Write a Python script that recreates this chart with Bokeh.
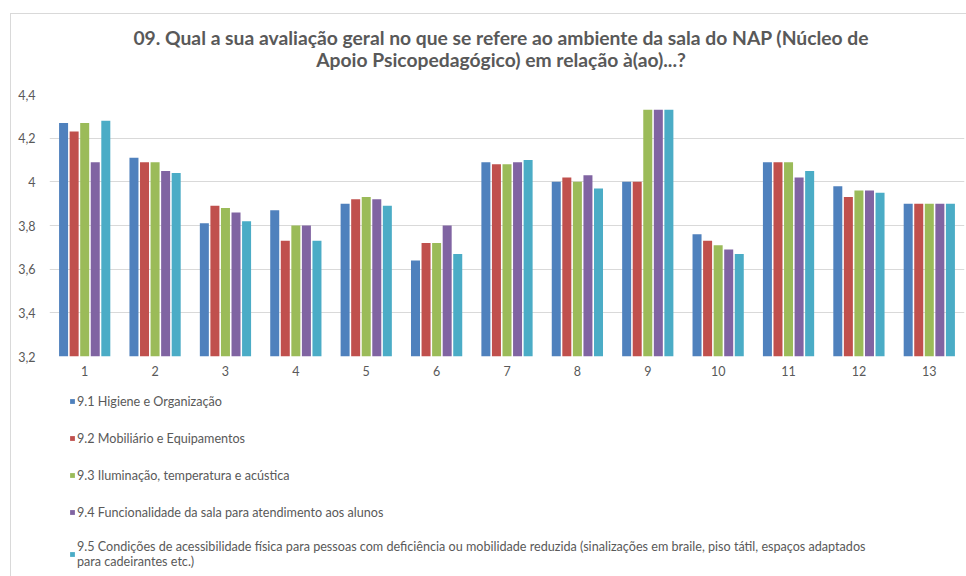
from bokeh.plotting import figure
from bokeh.layouts import column
from bokeh.models import (ColumnDataSource, FactorRange, Range1d, FixedTicker,
                          CustomJSTickFormatter, Legend, LegendItem, Div)
from bokeh.transform import dodge
from bokeh.embed import file_html
from bokeh.resources import INLINE

categories = [str(i) for i in range(1, 14)]

title_lines = [
    "09. Qual a sua avaliação geral no que se refere ao ambiente da sala do NAP (Núcleo de",
    "Apoio Psicopedagógico) em relação à(ao)...?",
]

series_names = [
    "9.1 Higiene e Organização",
    "9.2 Mobiliário e Equipamentos",
    "9.3 Iluminação, temperatura e acústica",
    "9.4 Funcionalidade da sala para atendimento aos alunos",
    "9.5 Condições de acessibilidade física para pessoas com deficiência ou mobilidade reduzida (sinalizações em braile, piso tátil, espaços adaptados\npara cadeirantes etc.)",
]

s91 = [4.27, 4.11, 3.81, 3.87, 3.90, 3.64, 4.09, 4.00, 4.00, 3.76, 4.09, 3.98, 3.90]
s92 = [4.23, 4.09, 3.89, 3.73, 3.92, 3.72, 4.08, 4.02, 4.00, 3.73, 4.09, 3.93, 3.90]
s93 = [4.27, 4.09, 3.88, 3.80, 3.93, 3.72, 4.08, 4.00, 4.33, 3.71, 4.09, 3.96, 3.90]
s94 = [4.09, 4.05, 3.86, 3.80, 3.92, 3.80, 4.09, 4.03, 4.33, 3.69, 4.02, 3.96, 3.90]
s95 = [4.28, 4.04, 3.82, 3.73, 3.89, 3.67, 4.10, 3.97, 4.33, 3.67, 4.05, 3.95, 3.90]

y_ticks = [3.2, 3.4, 3.6, 3.8, 4.0, 4.2, 4.4]
y_min, y_max = 3.2, 4.4

colors = ["#4F81BD", "#C0504D", "#9BBB59", "#8064A2", "#4BACC6"]
offsets = [-0.3, -0.15, 0.0, 0.15, 0.3]

FONT = "Lato"
GREY = "#595959"
BORDER = "#D9D9D9"

# ---- title block ----
title_div = Div(
    text=('<div style="text-align:center; font-family:Lato; font-weight:bold; '
          'font-size:19.3px; color:#595959; line-height:22px; box-sizing:border-box; '
          'padding-top:27px; padding-left:36px; width:966px; white-space:nowrap;">'
          + title_lines[0] + '<br>' + title_lines[1] + '</div>'),
    width=966, height=76, margin=0)

# ---- main chart ----
p = figure(x_range=FactorRange(*categories), y_range=Range1d(y_min, y_max),
           frame_width=915, frame_height=262,
           min_border_left=49, min_border_right=2, min_border_top=18,
           min_border_bottom=24,
           output_backend="svg", toolbar_location=None)

source = ColumnDataSource(dict(cat=categories, s91=s91, s92=s92, s93=s93, s94=s94, s95=s95))
keys = ["s91", "s92", "s93", "s94", "s95"]

for key, col, off in zip(keys, colors, offsets):
    p.vbar(x=dodge("cat", off, range=p.x_range), top=key, bottom=y_min,
           width=0.128, source=source, fill_color=col, line_color=None)

p.yaxis.ticker = FixedTicker(ticks=y_ticks)
p.yaxis.formatter = CustomJSTickFormatter(code="""
var s = (Math.round(tick*10)/10).toString();
return s.replace('.', ',');
""")
for ax in (p.xaxis, p.yaxis):
    ax.axis_line_color = None
    ax.major_tick_line_color = None
    ax.minor_tick_line_color = None
    ax.major_label_text_font = FONT
    ax.major_label_text_font_size = "12.5px"
    ax.major_label_text_color = GREY
p.yaxis.major_label_standoff = 8
p.xaxis.major_label_standoff = 3

p.xgrid.grid_line_color = None
p.ygrid.grid_line_color = BORDER
p.ygrid.ticker = FixedTicker(ticks=y_ticks)
p.outline_line_color = None
p.background_fill_color = "white"
p.border_fill_color = None

# ---- legend panel: same series, renderers hidden, only legend shown ----
lg = figure(x_range=FactorRange(*categories), y_range=Range1d(y_min, y_max),
            frame_width=915, height=196,
            min_border_left=49, min_border_right=2, min_border_top=0,
            min_border_bottom=0, output_backend="svg", toolbar_location=None)
lg.axis.visible = False
lg.grid.visible = False
lg.outline_line_color = None
lg.border_fill_color = None
lg.background_fill_color = None

items = []
for key, name, col, off in zip(keys, series_names, colors, offsets):
    r = lg.vbar(x=dodge("cat", off, range=lg.x_range), top=key, bottom=y_min,
                width=0.128, source=source, fill_color=col, line_color=None,
                visible=False)
    items.append(LegendItem(label=name, renderers=[r]))

legend = Legend(items=items, orientation="vertical", location=(20, 7),
                border_line_color=None, background_fill_alpha=0,
                click_policy="none",
                label_text_font=FONT, label_text_font_size="12.6px",
                label_text_color=GREY, glyph_width=6, glyph_height=6,
                label_height=20, spacing=17, label_standoff=2,
                padding=0, margin=0)
lg.add_layout(legend, "center")

frame_css = (f"linear-gradient({BORDER}, {BORDER}) 10px 13px / 1px 100% no-repeat, "
             f"linear-gradient({BORDER}, {BORDER}) 10px 13px / 100% 1px no-repeat, white")
layout = column(title_div, p, lg, spacing=0, styles={"background": frame_css})
open("out.html", "w").write(file_html(layout, INLINE))
